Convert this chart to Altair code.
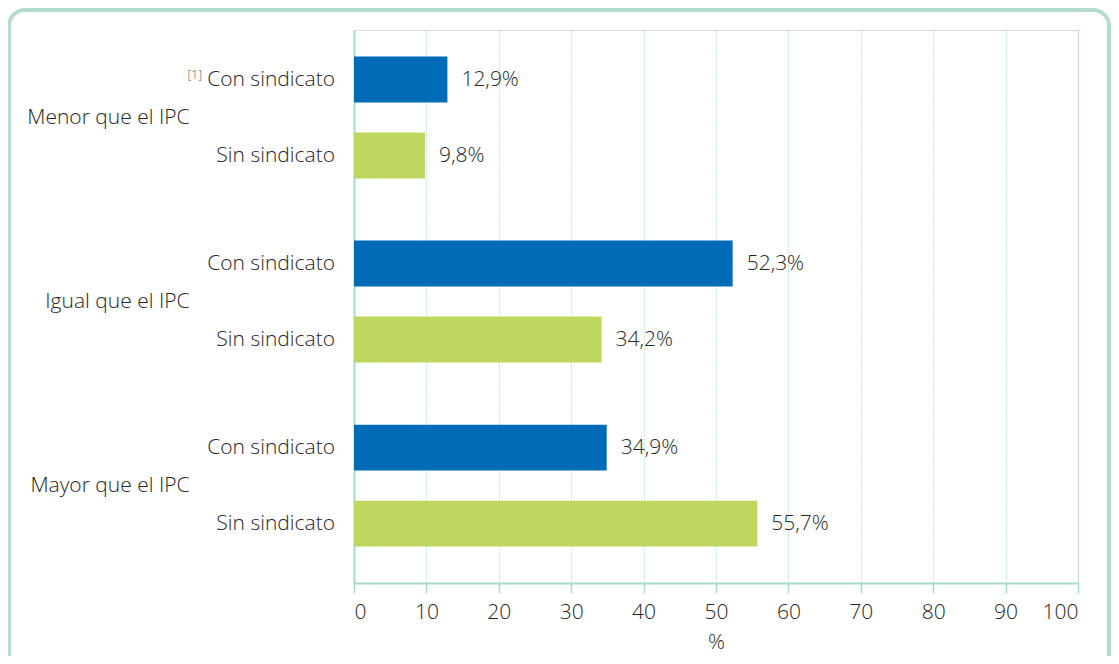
import altair as alt
import pandas as pd

grupos = ["Menor que el IPC", "Igual que el IPC", "Mayor que el IPC"]
sindicatos = ["Con sindicato", "Sin sindicato"]
con_sindicato = [12.9, 52.3, 34.9]
sin_sindicato = [9.8, 34.2, 55.7]
notas = ["[1]", "", ""]
x_ticks = [0, 10, 20, 30, 40, 50, 60, 70, 80, 90, 100]

rows = []
for i, g in enumerate(grupos):
    rows.append({"grupo": g, "sindicato": sindicatos[0], "valor": con_sindicato[i], "nota": notas[i]})
    rows.append({"grupo": g, "sindicato": sindicatos[1], "valor": sin_sindicato[i], "nota": ""})
df = pd.DataFrame(rows)

FONT = "Open Sans"
FW = 300
FS = 21
TEAL = "#a6dccd"
TXT = "#262626"

y_enc = alt.Y("grupo:N", sort=grupos,
              scale=alt.Scale(paddingInner=0.2, paddingOuter=0.1025, align=0.37),
              axis=alt.Axis(title=None, ticks=False, labelAlign="right", labelPadding=165,
                            labelFontSize=FS, labelFont=FONT, labelFontWeight=FW, labelColor=TXT,
                            domainColor=TEAL, domainWidth=2, grid=False))
yoff = alt.YOffset("sindicato:N", sort=sindicatos,
                   scale=alt.Scale(paddingInner=0.395, paddingOuter=0.166))

base = alt.Chart(df)

bars = base.mark_bar().encode(
    x=alt.X("valor:Q", scale=alt.Scale(domain=[0, 100], nice=False),
            axis=alt.Axis(values=x_ticks, title="%", titleFontSize=FS, titleFont=FONT,
                          titleFontWeight=FW, titleColor=TXT, titlePadding=9,
                          labelFontSize=FS, labelFont=FONT, labelFontWeight=FW, labelColor=TXT,
                          labelPadding=8,
                          tickSize=10, tickColor=TEAL, tickWidth=1.5,
                          domainColor=TEAL, domainWidth=2,
                          grid=True, gridColor="#8fd3c3", gridDash=[1, 2], gridWidth=1)),
    y=y_enc,
    yOffset=yoff,
    color=alt.Color("sindicato:N", sort=sindicatos,
                    scale=alt.Scale(domain=sindicatos, range=["#006bb6", "#bdd75f"]),
                    legend=None),
)

vals = base.transform_calculate(
    lbl="replace(format(datum.valor, '.1f'), '.', ',') + '%'"
).mark_text(align="left", baseline="middle", dx=14, fontSize=FS, font=FONT, fontWeight=FW, color=TXT).encode(
    x="valor:Q", y=alt.Y("grupo:N", sort=grupos), yOffset=yoff, text="lbl:N")

cats = base.mark_text(align="right", baseline="middle", dx=-19, fontSize=FS, font=FONT, fontWeight=FW, color=TXT).encode(
    x=alt.value(0), y=alt.Y("grupo:N", sort=grupos), yOffset=yoff, text="sindicato:N")

nota = base.transform_filter("datum.nota != ''").mark_text(
    align="right", baseline="middle", dx=-152, dy=-5, fontSize=12, font=FONT, fontWeight=FW, color="#555555").encode(
    x=alt.value(0), y=alt.Y("grupo:N", sort=grupos), yOffset=yoff, text="nota:N")

frame = alt.Chart(pd.DataFrame({"k": [0]})).mark_rect(
    fill=None, stroke="#b3dccf", strokeWidth=4, cornerRadius=16, clip=False).encode(
    x=alt.value(-345), x2=alt.value(755), y=alt.value(-20), y2=alt.value(660))

chart = alt.layer(frame, bars, vals, cats, nota).properties(
    width=724, height=553,
    autosize=alt.AutoSizeParams(type="none"),
    padding={"left": 346, "top": 22, "right": 33, "bottom": 73},
).resolve_scale(y="shared").configure_view(stroke=None).configure(background="white")

chart.save("out.html", embed_options={"renderer": "svg", "actions": False})
